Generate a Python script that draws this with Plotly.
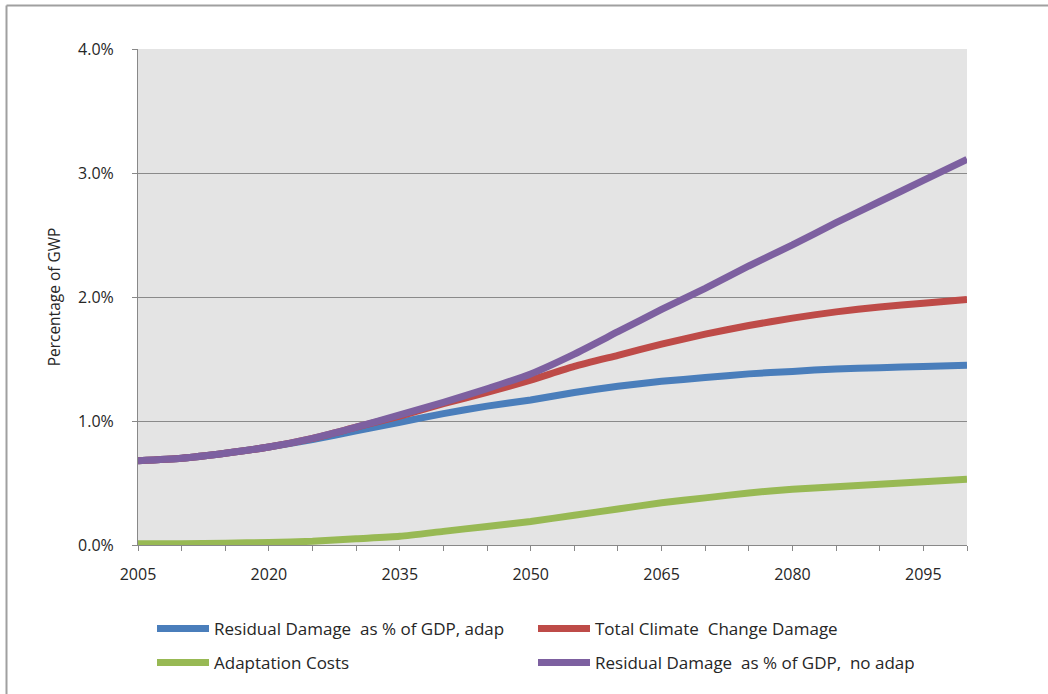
import plotly.graph_objects as go

# Years on the category axis (5-year steps)
years = [2005, 2010, 2015, 2020, 2025, 2030, 2035, 2040, 2045, 2050,
         2055, 2060, 2065, 2070, 2075, 2080, 2085, 2090, 2095, 2100]

# Shares of gross world product (fractions)
residual_adap = [0.0068, 0.0070, 0.0074, 0.0079, 0.0085, 0.0092, 0.0099, 0.0106, 0.0112, 0.0117,
                 0.0123, 0.0128, 0.0132, 0.0135, 0.0138, 0.0140, 0.0142, 0.0143, 0.0144, 0.0145]
total_damage = [0.0068, 0.0070, 0.0074, 0.0079, 0.0086, 0.0095, 0.0104, 0.0114, 0.0123, 0.0133,
                0.0144, 0.0153, 0.0162, 0.0170, 0.0177, 0.0183, 0.0188, 0.0192, 0.0195, 0.0198]
adaptation_costs = [0.0001, 0.0001, 0.00015, 0.0002, 0.0003, 0.0005, 0.0007, 0.0011, 0.0015, 0.0019,
                    0.0024, 0.0029, 0.0034, 0.0038, 0.0042, 0.0045, 0.0047, 0.0049, 0.0051, 0.0053]
residual_no_adap = [0.0068, 0.0070, 0.0074, 0.0079, 0.0086, 0.0095, 0.0105, 0.0115, 0.0126, 0.0138,
                    0.0154, 0.0172, 0.0190, 0.0207, 0.0225, 0.0242, 0.0260, 0.0277, 0.0294, 0.0311]

x_tick_years = [2005, 2020, 2035, 2050, 2065, 2080, 2095]
y_ticks = [0, 0.01, 0.02, 0.03, 0.04]

series = [
    ("Residual Damage  as % of GDP, adap", residual_adap, "#4a7ebb", "legend"),
    ("Total Climate  Change Damage", total_damage, "#be4b48", "legend"),
    ("Adaptation Costs", adaptation_costs, "#98b954", "legend2"),
    ("Residual Damage  as % of GDP,  no adap", residual_no_adap, "#7d60a0", "legend2"),
]

FONT = "'Open Sans', 'Liberation Sans', sans-serif"
TXT = "#262626"

fig = go.Figure()
for name, vals, color, leg in series:
    fig.add_trace(go.Scatter(
        x=years, y=vals, name=name, mode="lines",
        line=dict(color=color, width=7, shape="spline", smoothing=0.6),
        legend=leg,
    ))

W, H = 1048, 694
L, R, T, B = 138, 81, 49, 149
PW, PH = W - L - R, H - T - B

legend_common = dict(orientation="h", xanchor="left", yanchor="top",
                     entrywidth=314, entrywidthmode="pixels", itemwidth=52,
                     font=dict(family=FONT, size=17, color=TXT),
                     bgcolor="rgba(0,0,0,0)")

fig.update_layout(
    width=W, height=H,
    margin=dict(l=L, r=R, t=T, b=B, autoexpand=False),
    paper_bgcolor="white",
    plot_bgcolor="#e4e4e4",
    font=dict(family=FONT, size=15, color=TXT),
    showlegend=True,
    legend=dict(x=14 / PW, y=-(611 - (T + PH)) / PH, **legend_common),
    legend2=dict(x=14 / PW, y=-(645 - (T + PH)) / PH, **legend_common),
    xaxis=dict(
        range=[2005, 2100], tickvals=x_tick_years, ticktext=[str(v) for v in x_tick_years],
        ticks="outside", ticklen=5, tickcolor="#888888", ticklabelstandoff=10,
        minor=dict(dtick=5, tick0=2005, ticks="outside", ticklen=5, tickcolor="#888888", showgrid=False),
        showline=True, linecolor="#888888", linewidth=1,
        showgrid=False, zeroline=False,
        tickfont=dict(family=FONT, size=16, color=TXT),
    ),
    yaxis=dict(
        range=[0, 0.04], tickvals=y_ticks, tickformat=".1%",
        ticks="outside", ticklen=5, tickcolor="#888888", ticklabelstandoff=15,
        showline=True, linecolor="#888888", linewidth=1,
        showgrid=True, gridcolor="#8a8a8a", gridwidth=1, zeroline=False,
        tickfont=dict(family=FONT, size=16, color=TXT),
        title=dict(text="Percentage of GWP", standoff=13,
                   font=dict(family=FONT, size=15.5, color=TXT)),
    ),
)

# Outer chart frame (left and top edges)
fx = -(L - 6.5) / PW
fy = 1 + (T - 5.5) / PH
fig.add_shape(type="line", xref="paper", yref="paper",
              x0=fx, x1=fx, y0=fy, y1=-(H - T) / PH,
              line=dict(color="#a0a0a0", width=2))
fig.add_shape(type="line", xref="paper", yref="paper",
              x0=fx, x1=1 + R / PW, y0=fy, y1=fy,
              line=dict(color="#a0a0a0", width=2))

fig.write_html("out.html")
